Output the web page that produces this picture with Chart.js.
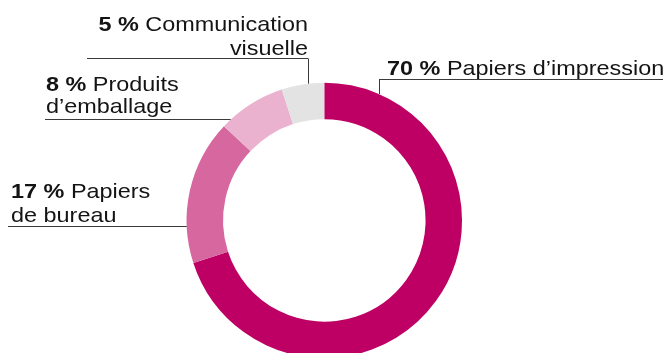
<!DOCTYPE html>
<html>
<head>
<meta charset="utf-8">
<script src="https://cdn.jsdelivr.net/npm/chart.js@4"></script>
<style>
  html, body { margin: 0; padding: 0; background: #fff; overflow: hidden; }
  #wrap { width: 669px; height: 353px; }
</style>
</head>
<body>
<div id="wrap"><canvas id="donut" width="669" height="353"></canvas></div>
<script>
// share of each paper category (%)
const categories = ['Papiers d’impression', 'Papiers de bureau', 'Produits d’emballage', 'Communication visuelle'];
const shares = [70, 17, 8, 5];
const sliceColors = ['#be0064', '#d6679f', '#ebb2cf', '#e2e3e2'];

// label text split in lines (first line starts with the bold percentage)
const labelLines = [
    ['Papiers d’impression'],
    ['Papiers', 'de bureau'],
    ['Produits', 'd’emballage'],
    ['Communication', 'visuelle']
];

// where each label sits and how its leader line runs
const labelLayout = [
    { align: 'left',  x: 387, baselines: [75],          lineY: 79.5,  lineFrom: 379, lineTo: 663, drop: 379 },
    { align: 'left',  x: 11,  baselines: [197.5, 221.5], lineY: 226.5, lineFrom: 8,   lineTo: 'ring' },
    { align: 'left',  x: 46,  baselines: [90.5, 113],    lineY: 119.5, lineFrom: 45,  lineTo: 'ring' },
    { align: 'right', x: 308, baselines: [31, 54.5],     lineY: 58.5,  lineFrom: 87,  lineTo: 308, drop: 308 }
];

const FONT_SIZE = 21;
const STRETCH = 1.115;   // the original type is a bit wider than Liberation Sans

function drawLine(ctx, parts, x, y, align) {
    // parts: [[text, bold], ...]
    let w = 0;
    parts.forEach(p => {
        ctx.font = (p[1] ? 'bold ' : '') + FONT_SIZE + 'px "Liberation Sans", Arial, sans-serif';
        w += ctx.measureText(p[0]).width;
    });
    let startX = align === 'right' ? x - w * STRETCH : x;
    ctx.save();
    ctx.translate(startX, y);
    ctx.scale(STRETCH, 1);
    let cx = 0;
    parts.forEach(p => {
        ctx.font = (p[1] ? 'bold ' : '') + FONT_SIZE + 'px "Liberation Sans", Arial, sans-serif';
        ctx.fillText(p[0], cx, 0);
        cx += ctx.measureText(p[0]).width;
    });
    ctx.restore();
}

const leaderLabels = {
    id: 'leaderLabels',
    afterDraw(chart) {
        const ctx = chart.ctx;
        const arc = chart.getDatasetMeta(0).data[0];
        const cx = arc.x, cy = arc.y, R = arc.outerRadius;

        ctx.save();
        ctx.fillStyle = '#141414';
        ctx.textBaseline = 'alphabetic';
        ctx.textAlign = 'left';

        labelLayout.forEach((lay, i) => {
            labelLines[i].forEach((txt, j) => {
                const parts = j === 0 ? [[shares[i] + ' % ', true], [txt, false]] : [[txt, false]];
                drawLine(ctx, parts, lay.x, lay.baselines[j], lay.align);
            });

            ctx.strokeStyle = '#3a3a3a';
            ctx.lineWidth = 1;
            ctx.beginPath();
            if (lay.lineTo === 'ring') {
                const dy = lay.lineY - cy;
                const endX = cx - Math.sqrt(R * R - dy * dy);
                ctx.moveTo(lay.lineFrom, lay.lineY);
                ctx.lineTo(endX, lay.lineY);
            } else {
                ctx.moveTo(lay.lineFrom, lay.lineY);
                ctx.lineTo(lay.lineTo, lay.lineY);
                const dx = lay.drop - cx;
                const endY = cy - Math.sqrt(R * R - dx * dx);
                ctx.moveTo(lay.drop + 0.5, lay.lineY);
                ctx.lineTo(lay.drop + 0.5, endY);
            }
            ctx.stroke();
        });
        ctx.restore();
    }
};

new Chart(document.getElementById('donut'), {
    type: 'doughnut',
    data: {
        labels: categories,
        datasets: [{
            data: shares,
            backgroundColor: sliceColors,
            borderWidth: 0,
            hoverOffset: 0,
            clip: false
        }]
    },
    options: {
        responsive: false,
        animation: false,
        events: [],
        radius: 137.7,
        cutout: 97.5,
        rotation: 0,
        layout: { padding: { left: 0, right: 20.4, top: 87.8, bottom: 0 } },
        plugins: {
            legend: { display: false },
            tooltip: { enabled: false }
        }
    },
    plugins: [leaderLabels]
});
</script>
</body>
</html>
